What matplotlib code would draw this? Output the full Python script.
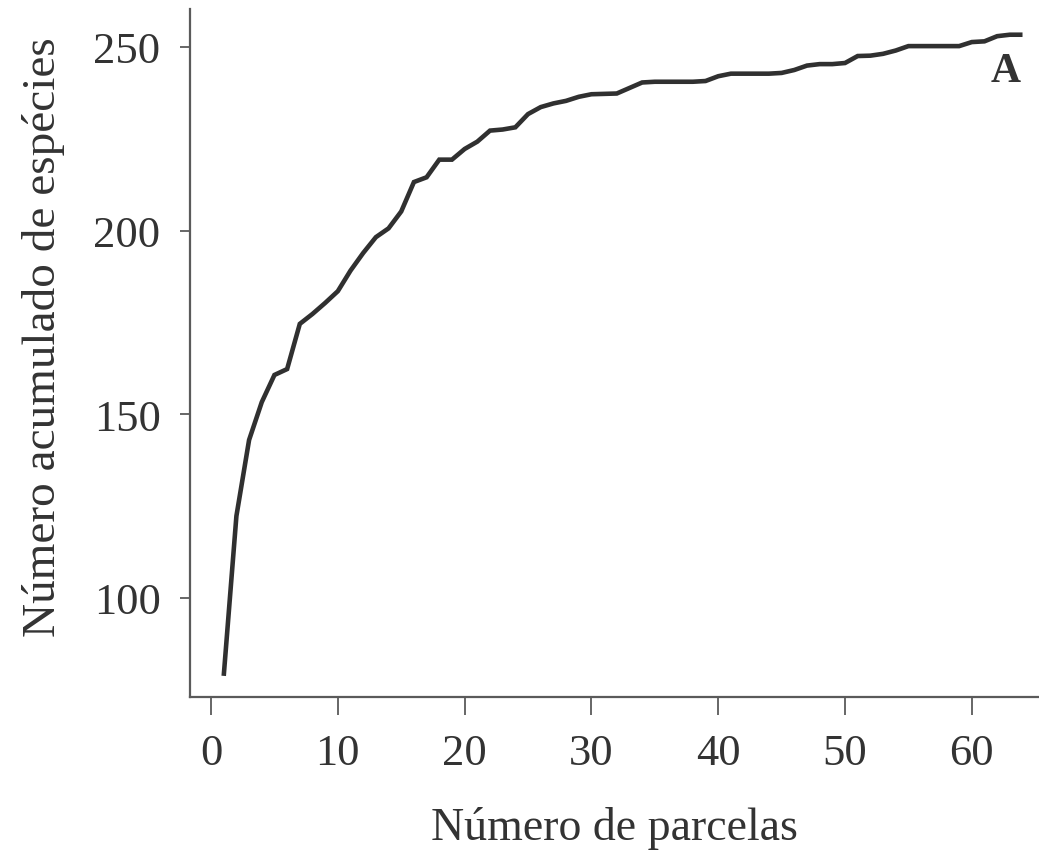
import matplotlib
matplotlib.use("Agg")
import matplotlib.pyplot as plt

# Cumulative number of species by number of plots
parcelas = list(range(1, 65))
especies = [
    78.8, 122.3, 143.0, 153.3, 160.7, 162.3, 174.6, 177.3, 180.3, 183.5,
    189.1, 193.9, 198.2, 200.6, 205.2, 213.2, 214.5, 219.3, 219.3, 222.2,
    224.2, 227.2, 227.5, 228.1, 231.7, 233.6, 234.6, 235.3, 236.4, 237.1,
    237.2, 237.3, 238.8, 240.3, 240.5, 240.5, 240.5, 240.5, 240.7, 242.0,
    242.7, 242.7, 242.7, 242.7, 242.9, 243.7, 244.9, 245.3, 245.3, 245.6,
    247.5, 247.6, 248.1, 249.0, 250.2, 250.2, 250.2, 250.2, 250.2, 251.3,
    251.5, 252.9, 253.3, 253.3,
]
xticks = [0, 10, 20, 30, 40, 50, 60]
yticks = [100, 150, 200, 250]
xlabel = "Número de parcelas"
ylabel = "Número acumulado de espécies"
panel = "A"

plt.rcParams["font.family"] = ["Liberation Serif", "DejaVu Serif"]
text_color = "#333333"
axis_color = "#5a5a5a"

fig = plt.figure(figsize=(10.39, 8.53), dpi=100)
ax = fig.add_axes([190 / 1039, 1 - 698 / 853, 849 / 1039, 688 / 853])

ax.plot(parcelas, especies, color="#303030", linewidth=3.3,
        solid_capstyle="butt", solid_joinstyle="miter")

ax.set_xlim(-1.66, 65.3)
ax.set_ylim(73.05, 260.3)
ax.set_xticks(xticks)
ax.set_yticks(yticks)

for side in ("top", "right"):
    ax.spines[side].set_visible(False)
for side in ("left", "bottom"):
    ax.spines[side].set_color(axis_color)
    ax.spines[side].set_linewidth(1.6)

ax.tick_params(axis="x", direction="out", length=13, width=1.3,
               color=axis_color, pad=13, labelsize=32, labelcolor=text_color)
ax.tick_params(axis="y", direction="out", length=7.2, width=1.3,
               color=axis_color, pad=14, labelsize=32, labelcolor=text_color)

ax.set_xlabel(xlabel, fontsize=33, color=text_color)
ax.xaxis.set_label_coords(0.5, -0.206)
ax.xaxis.label.set_verticalalignment("baseline")
ax.set_ylabel(ylabel, fontsize=34, color=text_color)
ax.yaxis.set_label_coords(-0.173, 0.5247)
ax.yaxis.label.set_verticalalignment("center")

ax.text(62.7, 240.8, panel, ha="center", va="baseline", fontsize=30,
        fontweight="bold", color=text_color)

fig.savefig("out.png", dpi=100, facecolor="white")
